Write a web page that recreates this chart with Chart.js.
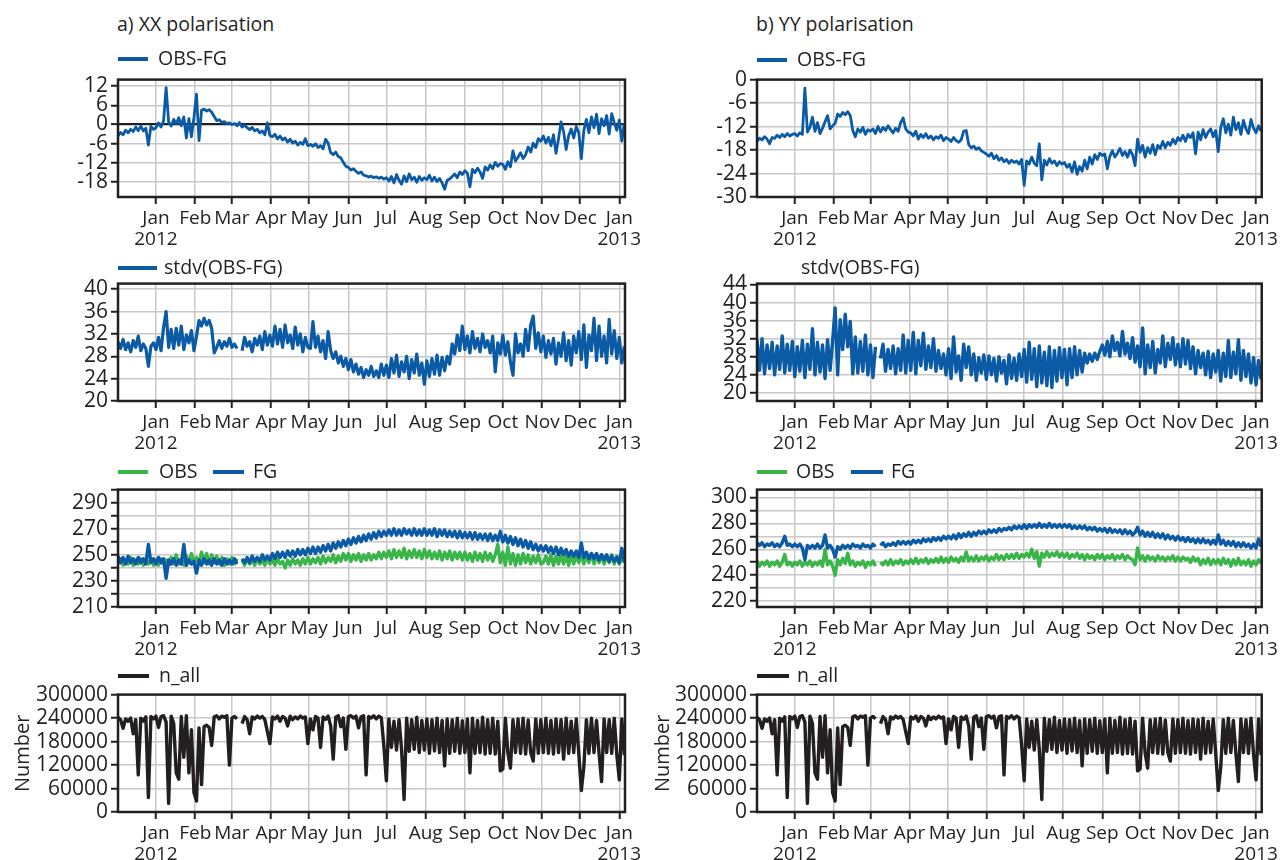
<!DOCTYPE html>
<html>
<head>
<meta charset="utf-8">
<script src="https://cdn.jsdelivr.net/npm/chart.js@4.4.1/dist/chart.umd.min.js"></script>
<style>
  body { margin: 0; background: #fff; width: 1282px; height: 860px; position: relative; overflow: hidden;
         font-family: "Open Sans", sans-serif; color: #231f20; }
  canvas { position: absolute; }
  .txt { position: absolute; font-size: 19.5px; line-height: 20px; white-space: nowrap; }
  .key { position: absolute; height: 4px; }
</style>
</head>
<body>
<script>
// time axis: days counted from 1 Jan 2012, one sample every 2 days from 2 Dec 2011
const firstDay = -30;
const stepDays = 2;
const monthDays = [0, 31, 60, 91, 121, 152, 182, 213, 244, 274, 305, 335, 366];
const monthNames = ['Jan', 'Feb', 'Mar', 'Apr', 'May', 'Jun', 'Jul', 'Aug', 'Sep', 'Oct', 'Nov', 'Dec', 'Jan'];
const yearNames = ['2012', '2013'];

// OBS-FG departures
const xxDep = [
  -3.6, -2.5, -3.2, -1.8, -2.6, -1.5, -2.2, -0.8, -1.9, -0.5, -2.0, -1.2, -6.4, -0.6, -1.5,
  -1.0, 0.5, -0.8, 1.2, 11.5, 0.8, -0.5, 1.6, 0.2, 2.1, -0.4, 2.4, -4.2, 1.8, -3.8, 2.2,
  9.5, -5.0, 4.5, 4.8, 4.2, 4.6, 3.8, 2.5, 1.2, 1.5, 0.6, 0.9, 0.2, 0.5, 0.0,
  0.3, -0.4, 0.6, -0.8, -0.2, -1.0, -1.6, -0.9, -2.0, -1.5, -2.6, -2.0, -3.2, 0.5, -3.4,
  -3.8, -3.0, -4.5, -3.6, -4.8, -4.2, -5.5, -4.6, -5.8, -5.2, -6.4, -5.6, -6.2, -4.4, -6.6,
  -6.2, -6.8, -6.0, -7.2, -6.6, -7.6, -4.6, -5.8, -8.8, -9.4, -8.6, -10.0, -10.4, -11.8, -13.0,
  -13.4, -14.2, -13.8, -14.6, -15.2, -14.8, -15.8, -16.0, -16.4, -16.1, -16.6, -16.3, -16.8, -16.4, -17.0,
  -16.6, -17.6, -16.2, -18.2, -15.6, -17.4, -18.6, -16.0, -17.8, -15.4, -17.2, -16.4, -18.0, -16.2, -17.4, -16.6,
  -17.2, -15.8, -17.6, -16.4, -17.8, -16.8, -18.2, -20.2, -17.4, -17.0, -16.2, -15.4, -16.6, -14.8, -15.6,
  -14.4, -15.2, -19.4, -14.0, -15.0, -13.6, -14.8, -16.8, -13.2, -14.2, -12.6, -13.8, -11.8, -13.0, -12.2,
  -12.4, -14.0, -11.6, -13.2, -8.2, -11.4, -10.2, -8.8, -10.6, -9.4, -7.0, -8.6, -5.8, -7.2, -4.4, -5.2,
  -3.6, -5.8, -4.0, -6.6, -3.2, -9.0, -4.4, 0.8, -2.2, -7.8, -3.4, -1.4, -4.2, -0.6, -2.6,
  -10.6, -1.8, 1.6, -2.6, 2.4, -1.0, 3.2, -2.8, 1.8, -0.4, 2.8, -3.0, 3.4, 0.6, -1.8,
  1.4, -5.2, 0.4
];
const yyDep = [
  -15.8, -15.0, -15.4, -14.6, -15.2, -16.4, -14.8, -15.0, -14.2, -14.8, -14.0, -14.6, -13.8, -14.4, -14.0,
  -13.8, -14.4, -13.6, -14.0, -2.2, -13.4, -12.2, -9.6, -13.2, -11.0, -13.8, -12.4, -10.8, -9.2, -12.6, -11.8,
  -11.2, -8.8, -9.4, -8.4, -9.0, -8.2, -9.2, -13.0, -14.6, -12.6, -13.4, -12.2, -14.0, -12.8, -13.2,
  -12.6, -13.8, -12.0, -13.4, -12.2, -13.0, -11.8, -12.8, -13.6, -12.4, -13.2, -11.0, -9.8, -12.6, -13.4,
  -13.6, -14.4, -13.2, -15.2, -14.0, -14.8, -13.8, -15.0, -14.4, -15.4, -14.6, -15.0, -14.2, -15.6, -14.8,
  -15.2, -15.8, -14.8, -15.6, -16.0, -15.4, -13.2, -13.0, -16.6, -17.4, -17.0, -17.8, -17.4, -18.2, -18.6,
  -19.0, -19.6, -18.8, -20.2, -19.4, -20.6, -20.0, -21.0, -20.4, -21.4, -20.6, -21.2, -20.8, -21.6, -20.4,
  -27.0, -20.8, -21.6, -19.8, -21.4, -22.0, -16.4, -25.6, -20.6, -21.8, -20.2, -21.4, -20.8, -22.0, -21.0, -21.6,
  -21.2, -22.4, -21.6, -23.6, -21.0, -24.2, -22.2, -23.4, -20.6, -22.8, -19.8, -21.6, -19.2, -20.4, -18.8,
  -19.4, -19.0, -22.8, -19.6, -18.2, -19.8, -18.8, -17.6, -19.4, -18.4, -19.8, -18.0, -19.2, -22.0, -15.2,
  -18.6, -16.8, -19.8, -17.4, -18.8, -16.6, -19.2, -16.8, -17.6, -15.8, -17.4, -16.0, -16.8, -15.2, -16.4, -14.8,
  -15.6, -14.2, -15.8, -14.0, -14.8, -13.6, -19.0, -13.4, -15.4, -12.8, -14.8, -13.4, -12.6, -14.6, -13.0,
  -18.4, -12.2, -10.0, -13.6, -11.4, -14.2, -9.6, -12.8, -11.0, -14.0, -10.4, -12.6, -13.8, -10.2, -12.4,
  -13.6, -11.8, -13.2
];

// stdv(OBS-FG)
const xxStd = [
  30.6, 29.4, 31.0, 29.2, 30.4, 28.8, 30.8, 29.6, 31.6, 29.0, 30.2, 29.4, 26.2, 29.8, 30.4,
  29.2, 31.4, 29.0, 33.2, 36.0, 29.6, 32.8, 29.4, 33.0, 30.0, 33.4, 29.2, 31.8, 30.4, 32.6, 29.0,
  31.6, 34.4, 33.4, 34.8, 33.6, 34.4, 33.0, 28.6, 29.6, 30.8, 29.4, 30.6, 29.8, 31.2, 29.6,
  30.2, 29.4, null, 29.0, 31.4, 29.8, 30.6, 28.8, 31.2, 30.0, 31.6, 29.2, 32.4, 30.0, 31.8,
  29.8, 33.4, 30.2, 32.8, 29.6, 33.6, 30.4, 31.8, 29.4, 33.2, 30.0, 32.0, 28.8, 31.4, 29.6,
  29.4, 34.2, 29.6, 31.6, 28.8, 30.8, 27.6, 32.4, 29.0, 27.6, 28.8, 26.8, 28.0, 26.2, 27.6,
  25.6, 27.4, 25.2, 26.6, 24.8, 26.0, 24.2, 25.6, 24.6, 26.2, 24.4, 25.4, 24.2, 26.6, 24.6,
  26.4, 24.2, 27.6, 25.0, 28.2, 24.4, 27.0, 25.2, 28.0, 24.0, 27.4, 25.0, 28.4, 24.6, 26.8, 23.0,
  27.2, 24.4, 27.6, 24.8, 28.2, 24.6, 27.8, 25.4, 28.0, 26.6, 30.2, 28.4, 31.8, 29.0, 33.4,
  29.2, 31.6, 28.6, 32.4, 29.4, 31.2, 28.8, 32.0, 29.6, 30.8, 28.6, 31.6, 25.2, 30.4, 28.4,
  31.8, 28.2, 30.6, 27.0, 24.6, 32.0, 28.6, 30.2, 28.0, 32.8, 29.0, 33.6, 35.2, 29.4, 32.2, 28.8,
  31.6, 27.8, 30.8, 28.4, 31.2, 26.6, 30.4, 28.0, 32.2, 27.2, 30.8, 26.4, 31.6, 28.6, 32.4,
  27.4, 33.6, 26.0, 31.8, 29.0, 34.8, 27.2, 33.4, 28.0, 31.6, 26.8, 34.6, 28.4, 32.6, 27.6,
  31.4, 26.8, 29.8
];
const yyStd = [
  31.8, 25.0, 32.0, 24.2, 30.6, 25.4, 31.2, 24.0, 30.4, 25.2, 32.6, 24.4, 30.8, 25.0, 31.4,
  23.6, 30.2, 24.8, 31.6, 23.4, 30.8, 25.2, 34.2, 24.0, 31.2, 24.6, 30.6, 23.2, 31.8, 25.0, 31.4,
  38.8, 24.0, 36.2, 29.6, 37.4, 30.2, 35.8, 24.2, 32.4, 24.4, 31.4, 24.8, 32.8, 24.0, 30.6,
  23.4, 30.2, null, 27.6, 30.8, 24.8, 29.6, 25.4, 30.4, 24.2, 29.8, 25.0, 32.8, 24.4, 31.6,
  25.0, 33.4, 24.2, 31.6, 26.0, 33.2, 25.2, 30.4, 25.6, 32.0, 24.8, 29.4, 25.4, 28.6, 24.0,
  29.8, 23.2, 32.4, 24.6, 28.2, 22.8, 30.8, 25.6, 30.2, 24.0, 28.6, 22.8, 27.8, 24.4, 28.4,
  23.0, 28.2, 24.0, 27.6, 22.6, 28.0, 24.4, 27.2, 22.0, 28.4, 23.2, 27.6, 22.8, 28.6, 23.6,
  29.6, 22.4, 31.2, 23.0, 29.8, 21.4, 30.4, 22.2, 29.0, 21.6, 30.2, 21.2, 29.4, 22.6, 30.0, 23.4,
  29.6, 21.8, 29.8, 23.4, 30.2, 24.0, 29.4, 24.6, 28.8, 26.6, 28.6, 27.0, 28.8, 27.4, 29.2,
  30.6, 28.4, 31.4, 28.0, 32.6, 29.4, 31.2, 28.2, 33.6, 28.6, 31.0, 27.6, 32.2, 26.8, 30.4,
  25.8, 34.4, 24.2, 30.6, 25.6, 31.4, 24.4, 29.6, 26.6, 32.6, 25.8, 31.0, 27.4, 32.2, 26.2, 30.8,
  25.8, 32.0, 26.4, 31.6, 25.4, 30.2, 24.2, 29.4, 25.6, 28.8, 24.0, 29.2, 23.4, 28.6, 24.6,
  29.4, 22.6, 28.8, 23.6, 31.6, 23.4, 29.0, 24.2, 31.8, 22.8, 29.4, 23.6, 28.6, 22.2, 27.8,
  21.8, 27.2, 23.0
];

// brightness temperatures, observed and first guess
const xxObs = [
  243, 247, 242, 246, 243, 248, 242, 246, 243, 247, 242, 246, 243, 247, 242,
  246, 242, 247, 243, 246, 242, 248, 243, 250, 243, 247, 242, 249, 244, 251, 243,
  248, 243, 252, 244, 251, 243, 250, 244, 249, 243, 248, 242, 247, 243, 248,
  243, 247, null, 246, 242, 247, 243, 246, 242, 247, 243, 246, 242, 247, 243,
  246, 242, 247, 243, 245, 240, 246, 242, 247, 243, 246, 242, 247, 243, 248,
  243, 247, 244, 248, 243, 249, 244, 248, 245, 250, 244, 249, 245, 251, 246,
  251, 245, 250, 246, 251, 245, 250, 246, 251, 246, 250, 247, 252, 247, 252,
  248, 253, 247, 254, 248, 253, 248, 255, 247, 253, 248, 254, 248, 253, 247, 254,
  248, 253, 247, 252, 247, 253, 246, 252, 247, 253, 246, 252, 247, 252, 246,
  252, 246, 251, 245, 252, 246, 251, 245, 252, 246, 251, 245, 250, 258, 244,
  252, 242, 256, 243, 251, 242, 250, 243, 251, 244, 250, 243, 249, 244, 250, 243,
  244, 249, 243, 250, 242, 249, 243, 250, 243, 249, 242, 250, 243, 249, 244,
  250, 243, 249, 244, 251, 243, 249, 244, 250, 243, 249, 244, 250, 243, 249,
  243, 248, 244
];
const xxFg = [
  249, 244, 248, 243, 249, 244, 247, 243, 248, 244, 247, 243, 258, 244, 247,
  243, 248, 244, 247, 232, 246, 243, 247, 242, 246, 243, 258, 242, 246, 243, 245,
  236, 246, 242, 247, 243, 246, 242, 247, 243, 246, 242, 247, 243, 246, 243,
  247, 243, null, 247, 244, 248, 244, 249, 245, 248, 245, 250, 246, 249, 246,
  251, 247, 252, 248, 252, 248, 253, 249, 253, 249, 254, 250, 254, 250, 255,
  251, 256, 251, 256, 252, 257, 253, 258, 253, 259, 255, 260, 256, 261, 257,
  262, 258, 263, 259, 264, 260, 265, 261, 266, 262, 267, 263, 268, 264, 268,
  265, 269, 265, 270, 265, 269, 265, 270, 266, 269, 265, 270, 265, 269, 265, 270,
  265, 269, 265, 270, 264, 269, 265, 269, 264, 268, 264, 268, 263, 268, 263,
  267, 263, 267, 262, 267, 262, 266, 262, 266, 261, 266, 261, 265, 261, 268,
  260, 265, 259, 264, 258, 263, 257, 262, 256, 261, 255, 260, 254, 258, 253, 257,
  253, 257, 252, 256, 251, 256, 250, 255, 250, 254, 249, 253, 249, 253, 248,
  259, 248, 252, 247, 251, 247, 251, 246, 250, 246, 250, 245, 249, 245, 248,
  244, 255, 245
];
const yyObs = [
  251, 247, 250, 248, 251, 247, 250, 248, 251, 247, 250, 256, 248, 250, 247,
  250, 248, 251, 247, 250, 248, 251, 247, 250, 248, 251, 247, 260, 248, 251, 247,
  240, 252, 248, 253, 249, 257, 248, 251, 247, 250, 248, 251, 246, 250, 248,
  251, 247, null, 250, 248, 251, 248, 252, 248, 251, 249, 252, 248, 251, 249,
  252, 249, 253, 249, 252, 250, 253, 249, 252, 250, 253, 250, 254, 250, 253,
  250, 254, 251, 253, 250, 254, 251, 258, 251, 254, 251, 255, 251, 254, 252,
  255, 251, 254, 252, 256, 252, 255, 252, 256, 253, 256, 253, 257, 253, 256,
  254, 257, 254, 260, 253, 258, 247, 257, 254, 258, 254, 257, 255, 258, 254, 257,
  254, 257, 253, 256, 254, 257, 253, 256, 252, 256, 253, 255, 252, 256, 253,
  256, 252, 255, 253, 256, 252, 255, 253, 256, 252, 255, 253, 252, 248, 261,
  252, 255, 251, 255, 252, 254, 251, 255, 252, 254, 251, 254, 252, 255, 251, 254,
  251, 254, 252, 253, 250, 254, 251, 253, 248, 252, 249, 253, 248, 252, 249,
  252, 248, 253, 249, 252, 247, 252, 248, 253, 248, 251, 248, 252, 247, 251,
  248, 252, 249
];
const yyFg = [
  265, 263, 265, 262, 264, 263, 265, 262, 264, 262, 265, 270, 263, 264, 262,
  264, 262, 264, 261, 252, 263, 261, 263, 261, 264, 261, 263, 271, 261, 263, 260,
  254, 262, 260, 263, 261, 263, 261, 264, 262, 263, 261, 264, 262, 263, 261,
  264, 262, null, 263, 265, 262, 264, 263, 265, 263, 266, 264, 266, 264, 266,
  264, 267, 265, 267, 265, 268, 266, 268, 266, 269, 267, 269, 267, 270, 268,
  270, 268, 271, 268, 272, 269, 272, 270, 273, 270, 273, 271, 274, 272, 274,
  272, 275, 273, 275, 273, 276, 274, 276, 275, 277, 275, 278, 276, 278, 276,
  279, 276, 279, 277, 279, 277, 280, 277, 279, 277, 280, 277, 279, 277, 279, 277,
  279, 277, 279, 276, 278, 276, 278, 276, 278, 275, 277, 275, 277, 274, 276,
  274, 276, 273, 276, 273, 275, 273, 275, 272, 275, 272, 274, 271, 273, 277,
  271, 274, 270, 273, 270, 273, 269, 272, 269, 272, 268, 271, 268, 270, 267, 270,
  267, 269, 266, 269, 266, 268, 265, 268, 265, 268, 265, 267, 264, 267, 264,
  271, 264, 267, 263, 266, 263, 266, 262, 265, 262, 265, 262, 264, 261, 264,
  261, 268, 262
];

// number of observations used (same for both polarisations)
const nAll = [
  242000, 236000, 214000, 238000, 232000, 240000, 200000, 236000, 95000, 240000, 232000, 243000, 37000, 244000, 238000,
  245000, 216000, 244000, 246000, 230000, 22000, 245000, 226000, 100000, 84000, 244000, 140000, 246000, 100000, 210000, 50000,
  28000, 215000, 70000, 218000, 222000, 216000, 170000, 243000, 246000, 238000, 245000, 242000, 246000, 120000, 240000,
  244000, 238000, null, 226000, 244000, 236000, 200000, 243000, 238000, 245000, 240000, 244000, 236000, 205000, 175000,
  243000, 238000, 245000, 232000, 244000, 240000, 220000, 245000, 236000, 243000, 238000, 245000, 240000, 243000, 175000,
  238000, 210000, 244000, 240000, 165000, 243000, 237000, 245000, 220000, 135000, 242000, 246000, 218000, 240000, 160000,
  244000, 246000, 240000, 245000, 215000, 243000, 246000, 95000, 244000, 240000, 246000, 238000, 245000, 241000, 170000,
  80000, 238000, 165000, 232000, 158000, 236000, 160000, 32000, 240000, 155000, 236000, 160000, 242000, 152000, 234000, 158000,
  238000, 150000, 236000, 156000, 240000, 152000, 234000, 118000, 238000, 150000, 236000, 155000, 240000, 150000, 233000,
  152000, 238000, 100000, 240000, 150000, 234000, 152000, 242000, 148000, 236000, 150000, 240000, 148000, 232000, 105000,
  110000, 240000, 150000, 112000, 236000, 152000, 238000, 150000, 240000, 148000, 235000, 152000, 130000, 238000, 150000, 236000,
  152000, 240000, 150000, 234000, 148000, 238000, 152000, 236000, 135000, 240000, 150000, 232000, 152000, 238000, 150000,
  55000, 115000, 236000, 150000, 240000, 152000, 234000, 150000, 78000, 238000, 152000, 236000, 150000, 240000, 148000,
  82000, 238000, 145000
];

// y-axis ticks and which of them carry a label
const depTicksXX = [-18, -12, -6, 0, 6, 12];
const depTicksYY = [-30, -24, -18, -12, -6, 0];
const stdTicksXX = [20, 24, 28, 32, 36, 40];
const stdTicksYY = [20, 24, 28, 32, 36, 40, 44];
const tbTicksXX = [210, 220, 230, 240, 250, 260, 270, 280, 290, 300];
const tbLabelsXX = [210, 230, 250, 270, 290];
const tbTicksYY = [220, 230, 240, 250, 260, 270, 280, 290, 300];
const tbLabelsYY = [220, 240, 260, 280, 300];
const nTicks = [0, 60000, 120000, 180000, 240000, 300000];

const blue = '#0a5aa6';
const green = '#3ab54a';
const black = '#231f20';
const gridGrey = '#c8c8c8';

Chart.defaults.font.family = '"Open Sans", sans-serif';
Chart.defaults.color = black;

const cols = [
  { left: 0, width: 660, plotL: 118, plotR: 625 },
  { left: 640, width: 642, plotL: 757, plotR: 1262 }
];
const padTop = 14, axisH = 62, boxH = 119;

function points(values) {
  return values.map((v, i) => ({ x: firstDay + i * stepDays, y: v }));
}

const frame = {
  id: 'frame',
  afterDatasetsDraw(chart) {
    const { ctx, chartArea: a } = chart;
    ctx.save();
    ctx.strokeStyle = black;
    ctx.lineWidth = 2.5;
    ctx.strokeRect(a.left, a.top, a.right - a.left, a.bottom - a.top);
    ctx.restore();
  }
};

function addText(str, x, yc) {
  const d = document.createElement('div');
  d.className = 'txt';
  d.textContent = str;
  d.style.left = x + 'px';
  d.style.top = (yc - 10.6) + 'px';
  document.body.appendChild(d);
}

function addKey(color, x1, x2, y) {
  const k = document.createElement('div');
  k.className = 'key';
  k.style.background = color;
  k.style.left = x1 + 'px';
  k.style.width = (x2 - x1) + 'px';
  k.style.top = (y - 2) + 'px';
  document.body.appendChild(k);
}

function panel(col, boxTop, y, series, lineW) {
  const c = cols[col];
  const cv = document.createElement('canvas');
  cv.width = c.width;
  cv.height = padTop + boxH + axisH;
  cv.style.left = c.left + 'px';
  cv.style.top = (boxTop - padTop) + 'px';
  document.body.appendChild(cv);

  new Chart(cv, {
    type: 'line',
    data: {
      datasets: series.map(s => ({
        label: s.label,
        data: points(s.values),
        borderColor: s.color,
        borderWidth: lineW,
        borderJoinStyle: 'round',
        pointRadius: 0,
        tension: 0,
        spanGaps: false,
        order: s.order || 0
      }))
    },
    options: {
      responsive: false,
      animation: false,
      events: [],
      layout: { padding: { top: padTop, right: c.width - (c.plotR - c.left), left: 0, bottom: 0 } },
      plugins: { legend: { display: false }, tooltip: { enabled: false } },
      scales: {
        x: {
          type: 'linear',
          min: firstDay,
          max: 370.5,
          afterBuildTicks: s => { s.ticks = monthDays.map(v => ({ value: v })); },
          afterFit: s => { s.height = axisH; },
          border: { display: false },
          grid: { color: gridGrey, lineWidth: 1.5, tickColor: black, tickWidth: 2, tickLength: 7 },
          ticks: {
            autoSkip: false, maxRotation: 0, minRotation: 0, padding: 4,
            font: { size: 19, lineHeight: 1.1 },
            callback: v => {
              const k = monthDays.indexOf(v);
              if (k === 0) return [monthNames[k], yearNames[0]];
              if (k === monthDays.length - 1) return [monthNames[k], yearNames[1]];
              return monthNames[k];
            }
          }
        },
        y: {
          type: 'linear',
          min: y.min,
          max: y.max,
          afterBuildTicks: s => { s.ticks = y.ticks.map(v => ({ value: v })); },
          afterFit: s => { s.width = c.plotL - c.left; },
          border: { display: false },
          grid: {
            color: ctx => (y.zero && ctx.tick && ctx.tick.value === 0) ? black : gridGrey,
            lineWidth: ctx => (y.zero && ctx.tick && ctx.tick.value === 0) ? 2.2 : 1.5,
            tickColor: black, tickWidth: 2, tickLength: 7
          },
          ticks: {
            autoSkip: false,
            padding: 3,
            font: { size: 21 },
            callback: v => (y.labels || y.ticks).includes(v) ? String(v) : ''
          },
          title: y.title
            ? { display: true, text: y.title, font: { size: 20 }, padding: { top: 11, bottom: 0 } }
            : { display: false }
        }
      }
    },
    plugins: [frame]
  });
}

// titles
addText('a) XX polarisation', 117, 25);
addText('b) YY polarisation', 756, 25);

// row 1: OBS-FG
panel(0, 78, { min: -22.6, max: 14, ticks: depTicksXX, zero: true },
  [{ label: 'OBS-FG', values: xxDep, color: blue }], 2.8);
panel(1, 78, { min: -30, max: 0, ticks: depTicksYY },
  [{ label: 'OBS-FG', values: yyDep, color: blue }], 2.8);
addKey(blue, 118, 148, 59); addText('OBS-FG', 158, 59);
addKey(blue, 757, 787, 60); addText('OBS-FG', 797, 60);

// row 2: stdv(OBS-FG)
panel(0, 282, { min: 20, max: 41, ticks: stdTicksXX },
  [{ label: 'stdv(OBS-FG)', values: xxStd, color: blue }], 3.2);
panel(1, 282, { min: 18.2, max: 44.2, ticks: stdTicksYY },
  [{ label: 'stdv(OBS-FG)', values: yyStd, color: blue }], 3.4);
addKey(blue, 118, 157, 268); addText('stdv(OBS-FG)', 164, 268);
addText('stdv(OBS-FG)', 801, 268);

// row 3: OBS and FG
panel(0, 488, { min: 210, max: 300, ticks: tbTicksXX, labels: tbLabelsXX },
  [{ label: 'OBS', values: xxObs, color: green, order: 1 },
   { label: 'FG', values: xxFg, color: blue, order: 0 }], 3.4);
panel(1, 488, { min: 215.5, max: 306, ticks: tbTicksYY, labels: tbLabelsYY },
  [{ label: 'OBS', values: yyObs, color: green, order: 1 },
   { label: 'FG', values: yyFg, color: blue, order: 0 }], 3.4);
addKey(green, 118, 148, 472); addText('OBS', 159, 472);
addKey(blue, 213, 244, 472); addText('FG', 253, 472);
addKey(green, 757, 787, 472); addText('OBS', 796, 472);
addKey(blue, 851, 883, 472); addText('FG', 891, 472);

// row 4: number of observations
panel(0, 693, { min: 0, max: 300000, ticks: nTicks, title: 'Number' },
  [{ label: 'n_all', values: nAll, color: black }], 3.4);
panel(1, 693, { min: 0, max: 300000, ticks: nTicks, title: 'Number' },
  [{ label: 'n_all', values: nAll, color: black }], 3.4);
addKey(black, 118, 149, 676); addText('n_all', 159, 676);
addKey(black, 757, 789, 676); addText('n_all', 797, 676);
</script>
</body>
</html>
